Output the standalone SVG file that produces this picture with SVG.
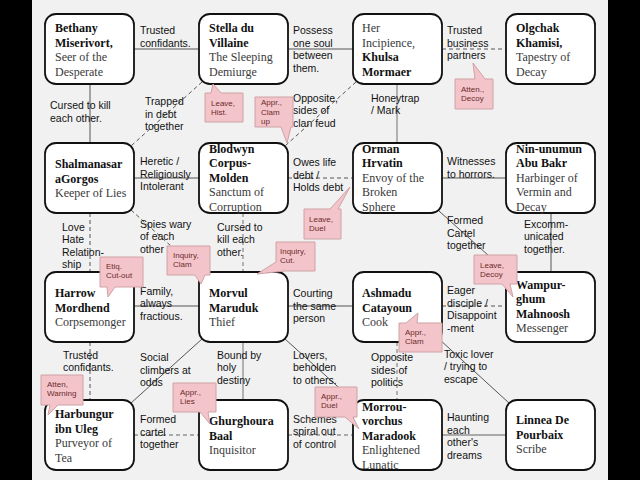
<svg xmlns="http://www.w3.org/2000/svg" width="640" height="480" viewBox="0 0 640 480">
<style>
.bg{fill:#f1f1f1}
.node rect{fill:#fff;stroke:#111;stroke-width:1.8}
.nt{font-family:"Liberation Serif",serif;font-size:12px}
.b{font-weight:bold;fill:#111}
.s{fill:#3a3a3a}
.c{stroke:#555;stroke-width:1;fill:none}
.cl{stroke:#aaa;stroke-width:1.8;fill:none}
.d{stroke-dasharray:4 3}
.lb{font-family:"Liberation Sans",Arial,sans-serif;font-size:10.5px;fill:#111}
.co path{fill:#f3c5ca;stroke:#cfa2a7;stroke-width:1}
.co text{font-family:"Liberation Sans",Arial,sans-serif;font-size:8px;fill:#6e2a2a}
</style>
<rect x="0" y="0" width="640" height="480" fill="#000"/>
<rect class="bg" x="32" y="0" width="576" height="480"/>

<g id="connectors">
<line class="c" x1="134" y1="49" x2="199" y2="49"/>
<line class="c" x1="288" y1="49" x2="353" y2="49"/>
<line class="c d" x1="442" y1="49" x2="506" y2="49"/>
<line class="c" x1="134" y1="178" x2="199" y2="178"/>
<line class="c d" x1="288" y1="178" x2="353" y2="178"/>
<line class="c" x1="442" y1="178" x2="506" y2="178"/>
<line class="c" x1="134" y1="306" x2="199" y2="306"/>
<line class="c" x1="288" y1="306" x2="353" y2="306"/>
<line class="c d" x1="442" y1="306" x2="506" y2="306"/>
<line class="cl d" x1="134" y1="435" x2="199" y2="435"/>
<line class="cl d" x1="288" y1="435" x2="353" y2="435"/>
<line class="cl" x1="442" y1="435" x2="506" y2="435"/>
<line class="c" x1="90" y1="84" x2="90" y2="143"/>
<line class="c d" x1="90" y1="213" x2="90" y2="272"/>
<line class="c d" x1="90" y1="342" x2="90" y2="400"/>
<line class="cl d" x1="243" y1="213" x2="243" y2="272"/>
<line class="cl" x1="243" y1="342" x2="243" y2="400"/>
<line class="cl" x1="397" y1="84" x2="397" y2="143"/>
<line class="cl d" x1="397" y1="342" x2="397" y2="400"/>
<line class="c" x1="551" y1="213" x2="551" y2="272"/>
<line class="c d" x1="202" y1="82" x2="131" y2="146"/>
<line class="c d" x1="356" y1="82" x2="285" y2="146"/>
<line class="c d" x1="131" y1="210" x2="202" y2="274"/>
<line class="c" x1="439" y1="211" x2="509" y2="274"/>
<line class="c" x1="202" y1="339" x2="131" y2="403"/>
<line class="c" x1="285" y1="339" x2="356" y2="403"/>
<line class="c" x1="439" y1="339" x2="509" y2="403"/>
</g>

<g id="labels" class="lb">
<text x="140" y="34">Trusted<tspan x="140" dy="12.5">confidants.</tspan></text>
<text x="293" y="34">Possess<tspan x="293" dy="12.5">one soul</tspan><tspan x="293" dy="12.5">between</tspan><tspan x="293" dy="12.5">them.</tspan></text>
<text x="447" y="34">Trusted<tspan x="447" dy="12.5">business</tspan><tspan x="447" dy="12.5">partners</tspan></text>
<text x="50" y="109">Cursed to kill<tspan x="50" dy="12.5">each other.</tspan></text>
<text x="145" y="105">Trapped<tspan x="145" dy="12.5">in debt</tspan><tspan x="145" dy="12.5">together</tspan></text>
<text x="293" y="101.5">Opposite,<tspan x="293" dy="12.5">sides of</tspan><tspan x="293" dy="12.5">clan feud</tspan></text>
<text x="371" y="101.5">Honeytrap<tspan x="371" dy="12.5">/ Mark</tspan></text>
<text x="140" y="165">Heretic /<tspan x="140" dy="12.5">Religiously</tspan><tspan x="140" dy="12.5">Intolerant</tspan></text>
<text x="293" y="166">Owes life<tspan x="293" dy="12.5">debt /</tspan><tspan x="293" dy="12.5">Holds debt</tspan></text>
<text x="447" y="165">Witnesses<tspan x="447" dy="12.5">to horrors.</tspan></text>
<text x="62" y="230.5">Love<tspan x="62" dy="12.5">Hate</tspan><tspan x="62" dy="12.5">Relation-</tspan><tspan x="62" dy="12.5">ship</tspan></text>
<text x="140" y="227.5">Spies wary<tspan x="140" dy="12.5">of each</tspan><tspan x="140" dy="12.5">other</tspan></text>
<text x="217" y="230.5">Cursed to<tspan x="217" dy="12.5">kill each</tspan><tspan x="217" dy="12.5">other.</tspan></text>
<text x="447" y="224">Formed<tspan x="447" dy="12.5">Cartel</tspan><tspan x="447" dy="12.5">together</tspan></text>
<text x="524" y="227.5">Excomm-<tspan x="524" dy="12.5">unicated</tspan><tspan x="524" dy="12.5">together.</tspan></text>
<text x="140" y="294.5">Family,<tspan x="140" dy="12.5">always</tspan><tspan x="140" dy="12.5">fractious.</tspan></text>
<text x="293" y="297">Courting<tspan x="293" dy="12.5">the same</tspan><tspan x="293" dy="12.5">person</tspan></text>
<text x="447" y="294">Eager<tspan x="447" dy="12.5">disciple /</tspan><tspan x="447" dy="12.5">Disappoint</tspan><tspan x="447" dy="12.5">-ment</tspan></text>
<text x="63" y="358.5">Trusted<tspan x="63" dy="12.5">confidants.</tspan></text>
<text x="140" y="361">Social<tspan x="140" dy="12.5">climbers at</tspan><tspan x="140" dy="12.5">odds</tspan></text>
<text x="217" y="358.5">Bound by<tspan x="217" dy="12.5">holy</tspan><tspan x="217" dy="12.5">destiny</tspan></text>
<text x="293" y="358.5">Lovers,<tspan x="293" dy="12.5">beholden</tspan><tspan x="293" dy="12.5">to others.</tspan></text>
<text x="371" y="361">Opposite<tspan x="371" dy="12.5">sides of</tspan><tspan x="371" dy="12.5">politics</tspan></text>
<text x="444" y="357.5">Toxic lover<tspan x="444" dy="12.5">/ trying to</tspan><tspan x="444" dy="12.5">escape</tspan></text>
<text x="140" y="423">Formed<tspan x="140" dy="12.5">cartel</tspan><tspan x="140" dy="12.5">together</tspan></text>
<text x="293" y="422.5">Schemes<tspan x="293" dy="12.5">spiral out</tspan><tspan x="293" dy="12.5">of control</tspan></text>
<text x="447" y="421">Haunting<tspan x="447" dy="12.5">each</tspan><tspan x="447" dy="12.5">other's</tspan><tspan x="447" dy="12.5">dreams</tspan></text>
</g>

<g id="bethany" class="node"><rect x="45" y="14" width="89" height="70" rx="11"/>
<text class="nt" x="55" y="32"><tspan class="b">Bethany</tspan><tspan class="b" x="55" dy="14.5">Miserivort,</tspan><tspan class="s" x="55" dy="14.5">Seer of the</tspan><tspan class="s" x="55" dy="14.5">Desperate</tspan></text></g>
<g id="stella" class="node"><rect x="199" y="14" width="89" height="70" rx="11"/>
<text class="nt" x="209" y="32"><tspan class="b">Stella du</tspan><tspan class="b" x="209" dy="14.5">Villaine</tspan><tspan class="s" x="209" dy="14.5">The Sleeping</tspan><tspan class="s" x="209" dy="14.5">Demiurge</tspan></text></g>
<g id="khulsa" class="node"><rect x="353" y="14" width="89" height="70" rx="11"/>
<text class="nt" x="362" y="32"><tspan class="s">Her</tspan><tspan class="s" x="362" dy="14.5">Incipience,</tspan><tspan class="b" x="362" dy="14.5">Khulsa</tspan><tspan class="b" x="362" dy="14.5">Mormaer</tspan></text></g>
<g id="olgchak" class="node"><rect x="506" y="14" width="89" height="70" rx="11"/>
<text class="nt" x="516" y="32"><tspan class="b">Olgchak</tspan><tspan class="b" x="516" dy="14.5">Khamisi,</tspan><tspan class="s" x="516" dy="14.5">Tapestry of</tspan><tspan class="s" x="516" dy="14.5">Decay</tspan></text></g>

<g id="shalmanasar" class="node"><rect x="45" y="143" width="89" height="70" rx="11"/>
<text class="nt" x="55" y="168"><tspan class="b">Shalmanasar</tspan><tspan class="b" x="55" dy="14.5">aGorgos</tspan><tspan class="s" x="55" dy="14.5">Keeper of Lies</tspan></text></g>
<g id="blodwyn" class="node"><rect x="199" y="143" width="89" height="70" rx="11"/>
<text class="nt" x="209" y="152.5"><tspan class="b">Blodwyn</tspan><tspan class="b" x="209" dy="14.5">Corpus-</tspan><tspan class="b" x="209" dy="14.5">Molden</tspan><tspan class="s" x="209" dy="14.5">Sanctum of</tspan><tspan class="s" x="209" dy="14.5">Corruption</tspan></text></g>
<g id="orman" class="node"><rect x="353" y="143" width="89" height="70" rx="11"/>
<text class="nt" x="362" y="152.5"><tspan class="b">Orman</tspan><tspan class="b" x="362" dy="14.5">Hrvatin</tspan><tspan class="s" x="362" dy="14.5">Envoy of the</tspan><tspan class="s" x="362" dy="14.5">Broken</tspan><tspan class="s" x="362" dy="14.5">Sphere</tspan></text></g>
<g id="ninunumun" class="node"><rect x="506" y="143" width="89" height="70" rx="11"/>
<text class="nt" x="516" y="152.5"><tspan class="b">Nin-unumun</tspan><tspan class="b" x="516" dy="14.5">Abu Bakr</tspan><tspan class="s" x="516" dy="14.5">Harbinger of</tspan><tspan class="s" x="516" dy="14.5">Vermin and</tspan><tspan class="s" x="516" dy="14.5">Decay</tspan></text></g>

<g id="harrow" class="node"><rect x="45" y="272" width="89" height="70" rx="11"/>
<text class="nt" x="55" y="297"><tspan class="b">Harrow</tspan><tspan class="b" x="55" dy="14.5">Mordhend</tspan><tspan class="s" x="55" dy="14.5">Corpsemonger</tspan></text></g>
<g id="morvul" class="node"><rect x="199" y="272" width="89" height="70" rx="11"/>
<text class="nt" x="209" y="297"><tspan class="b">Morvul</tspan><tspan class="b" x="209" dy="14.5">Maruduk</tspan><tspan class="s" x="209" dy="14.5">Thief</tspan></text></g>
<g id="ashmadu" class="node"><rect x="353" y="272" width="89" height="70" rx="11"/>
<text class="nt" x="362" y="297"><tspan class="b">Ashmadu</tspan><tspan class="b" x="362" dy="14.5">Catayoun</tspan><tspan class="s" x="362" dy="14.5">Cook</tspan></text></g>
<g id="wampurghum" class="node"><rect x="506" y="272" width="89" height="70" rx="11"/>
<text class="nt" x="516" y="288.5"><tspan class="b">Wampur-</tspan><tspan class="b" x="516" dy="14.5">ghum</tspan><tspan class="b" x="516" dy="14.5">Mahnoosh</tspan><tspan class="s" x="516" dy="14.5">Messenger</tspan></text></g>

<g id="harbungur" class="node"><rect x="45" y="400" width="89" height="70" rx="11"/>
<text class="nt" x="55" y="418"><tspan class="b">Harbungur</tspan><tspan class="b" x="55" dy="14.5">ibn Uleg</tspan><tspan class="s" x="55" dy="14.5">Purveyor of</tspan><tspan class="s" x="55" dy="14.5">Tea</tspan></text></g>
<g id="ghurghoura" class="node"><rect x="199" y="400" width="89" height="70" rx="11"/>
<text class="nt" x="209" y="425"><tspan class="b">Ghurghoura</tspan><tspan class="b" x="209" dy="14.5">Baal</tspan><tspan class="s" x="209" dy="14.5">Inquisitor</tspan></text></g>
<g id="morrouvorchus" class="node"><rect x="353" y="400" width="89" height="70" rx="11"/>
<text class="nt" x="362" y="410.5"><tspan class="b">Morrou-</tspan><tspan class="b" x="362" dy="14.5">vorchus</tspan><tspan class="b" x="362" dy="14.5">Maradook</tspan><tspan class="s" x="362" dy="14.5">Enlightened</tspan><tspan class="s" x="362" dy="14.5">Lunatic</tspan></text></g>
<g id="linnea" class="node"><rect x="506" y="400" width="89" height="70" rx="11"/>
<text class="nt" x="516" y="424"><tspan class="b">Linnea De</tspan><tspan class="b" x="516" dy="14.5">Pourbaix</tspan><tspan class="s" x="516" dy="14.5">Scribe</tspan></text></g>

<g id="callouts" class="co">
<g id="co1"><path d="M205,93 H211 L213,84 L221,93 H243 V122 H205 Z"/><text x="211" y="106">Leave,<tspan x="211" dy="9.3">Hist.</tspan></text></g>
<g id="co2"><path d="M255,97 H293 V127 H291 L287,143 L281,127 H255 Z"/><text x="261" y="105">Appr.,<tspan x="261" dy="9.5">Clam</tspan><tspan x="261" dy="9.5">up</tspan></text></g>
<g id="co3"><path d="M455,79 H475 L473,63 L485,79 H493 V109 H455 Z"/><text x="461" y="92">Atten.,<tspan x="461" dy="9.3">Decoy</tspan></text></g>
<g id="co4"><path d="M100,257 H143 V287 H115 L108,297 L107,287 H100 Z"/><text x="106" y="269">Etiq.<tspan x="106" dy="9.3">Cut-out</tspan></text></g>
<g id="co5"><path d="M167,246 H210 V275 H205 L201,284 L195,275 H167 Z"/><text x="173" y="258">Inquiry,<tspan x="173" dy="9.3">Clam</tspan></text></g>
<g id="co6"><path d="M276,242 H315 V271 H285 L257,274 L276,262 Z"/><text x="280" y="254">Inquiry,<tspan x="280" dy="9.3">Cut.</tspan></text></g>
<g id="co7"><path d="M304,209 H330 L350,187 L338,209 H341 V239 H304 Z"/><text x="309" y="222">Leave,<tspan x="309" dy="9.3">Duel</tspan></text></g>
<g id="co8"><path d="M474,255 H517 V284 H510 L513,297 L502,284 H474 Z"/><text x="480" y="268">Leave,<tspan x="480" dy="9.3">Decoy</tspan></text></g>
<g id="co9"><path d="M399,323 H406 L418,313 L417,323 H442 V352 H399 Z"/><text x="405" y="335">Appr.,<tspan x="405" dy="9.3">Clam</tspan></text></g>
<g id="co10"><path d="M41,375 H83 V405 H58 L48,415 L50,405 H41 Z"/><text x="47" y="387">Atten,<tspan x="47" dy="9.3">Warning</tspan></text></g>
<g id="co11"><path d="M173,383 H216 V412 H208 L210,424 L200,412 H173 Z"/><text x="180" y="395">Appr.,<tspan x="180" dy="9.3">Lies</tspan></text></g>
<g id="co12"><path d="M315,387 H357 V417 H353 L359,429 L345,417 H315 Z"/><text x="321" y="399">Appr.,<tspan x="321" dy="9.3">Duel</tspan></text></g>
</g>
</svg>
